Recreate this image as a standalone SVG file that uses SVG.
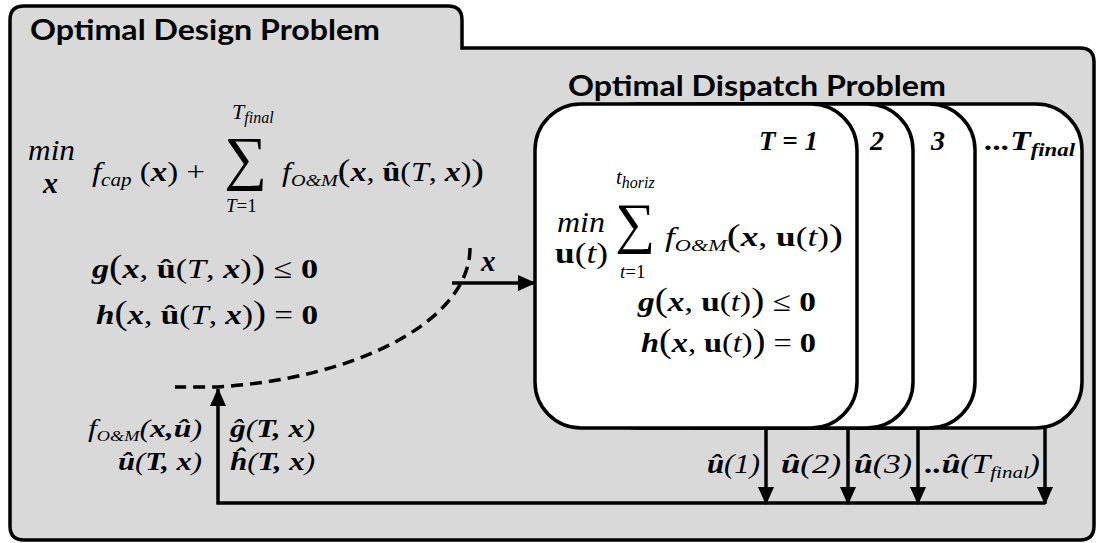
<svg xmlns="http://www.w3.org/2000/svg" width="1097" height="543" viewBox="0 0 1097 543">
<style>
.title{font-family:Lato,"Open Sans",sans-serif;font-weight:bold;font-size:28px;fill:#000}
.m{font-family:"Liberation Serif","DejaVu Serif",serif;fill:#000}
.i{font-style:italic}
.b{font-weight:bold}
.bi{font-style:italic;font-weight:bold}
.card{fill:#fff;stroke:#000;stroke-width:3.5}
.ln{stroke:#000;stroke-width:3.5;fill:none}
.dash{stroke:#000;stroke-width:3.5;fill:none;stroke-dasharray:12 7}
</style>
<defs>
<marker id="ah" markerUnits="userSpaceOnUse" markerWidth="18" markerHeight="16" refX="17" refY="8" orient="auto">
<path d="M0,0 L18,8 L0,16 Z" fill="#000"/>
</marker>
</defs>
<g id="design">
<path d="M 10 20 Q 10 6 24 6 L 448 6 Q 462 6 462 20 L 462 48 L 1080 48 Q 1094 48 1094 62 L 1094 526 Q 1094 540 1080 540 L 24 540 Q 10 540 10 526 Z" fill="#d9d9d9" stroke="#000" stroke-width="3.5"/>
<text class="title" x="30" y="40" textLength="350" lengthAdjust="spacingAndGlyphs">Optimal Design Problem</text>
<text class="m i" x="28" y="160" font-size="29" textLength="47" lengthAdjust="spacingAndGlyphs">min</text>
<text class="m bi" x="43" y="193" font-size="30">x</text>
<text class="m" x="92" y="181" font-size="28" textLength="113" lengthAdjust="spacingAndGlyphs"><tspan class="i">f</tspan><tspan class="i" font-size="18" dy="5">cap</tspan><tspan dy="-5"> (</tspan><tspan class="bi">x</tspan><tspan>) +</tspan></text>
<text class="m i" x="232" y="119" font-size="22">T<tspan font-size="16" dy="4">final</tspan></text>
<text class="m" x="224" y="178" font-size="60">∑</text>
<text class="m" x="226" y="212" font-size="19"><tspan class="i">T</tspan>=1</text>
<text class="m" x="282" y="181" font-size="27" textLength="202" lengthAdjust="spacingAndGlyphs"><tspan class="i">f</tspan><tspan class="i" font-size="17" dy="5">O&amp;M</tspan><tspan dy="-5" font-size="32">(</tspan><tspan class="bi">x</tspan>, <tspan class="b">û</tspan>(<tspan class="i">T</tspan>, <tspan class="bi">x</tspan>)<tspan font-size="32">)</tspan></text>
<text class="m" x="92" y="278" font-size="28" textLength="226" lengthAdjust="spacingAndGlyphs"><tspan class="bi">g</tspan><tspan font-size="33">(</tspan><tspan class="bi">x</tspan>, <tspan class="b">û</tspan>(<tspan class="i">T</tspan>, <tspan class="bi">x</tspan>)<tspan font-size="33">)</tspan> ≤ <tspan class="b">0</tspan></text>
<text class="m" x="96" y="324" font-size="28" textLength="222" lengthAdjust="spacingAndGlyphs"><tspan class="bi">h</tspan><tspan font-size="33">(</tspan><tspan class="bi">x</tspan>, <tspan class="b">û</tspan>(<tspan class="i">T</tspan>, <tspan class="bi">x</tspan>)<tspan font-size="33">)</tspan> = <tspan class="b">0</tspan></text>
<text class="m" x="88" y="437" font-size="26" textLength="114" lengthAdjust="spacingAndGlyphs"><tspan class="i">f</tspan><tspan class="i" font-size="15" dy="4">O&amp;M</tspan><tspan dy="-4" class="i">(</tspan><tspan class="bi">x,û</tspan><tspan class="i">)</tspan></text>
<text class="m" x="118" y="470" font-size="26" textLength="84" lengthAdjust="spacingAndGlyphs"><tspan class="bi">û</tspan><tspan class="i">(</tspan><tspan class="bi">T, x</tspan><tspan class="i">)</tspan></text>
<text class="m" x="230" y="437" font-size="26" textLength="85" lengthAdjust="spacingAndGlyphs"><tspan class="bi">ĝ</tspan><tspan class="i">(</tspan><tspan class="bi">T, x</tspan><tspan class="i">)</tspan></text>
<text class="m" x="230" y="470" font-size="26" textLength="85" lengthAdjust="spacingAndGlyphs"><tspan class="bi">ĥ</tspan><tspan class="i">(</tspan><tspan class="bi">T, x</tspan><tspan class="i">)</tspan></text>
</g>
<g id="dispatch">
<text class="title" x="568" y="96" textLength="378" lengthAdjust="spacingAndGlyphs">Optimal Dispatch Problem</text>
</g>
<g id="card4">
<rect class="card" x="760" y="104" width="322" height="324" rx="46" ry="46"/>
<text class="m bi" x="985" y="150" font-size="28" textLength="90" lengthAdjust="spacingAndGlyphs">...T<tspan font-size="19" dy="6">final</tspan></text>
</g>
<g id="card3">
<rect class="card" x="653" y="104" width="322" height="324" rx="46" ry="46"/>
<text class="m bi" x="931" y="150" font-size="28">3</text>
</g>
<g id="card2">
<rect class="card" x="591" y="104" width="322" height="324" rx="46" ry="46"/>
<text class="m bi" x="870" y="150" font-size="28">2</text>
</g>
<g id="card1">
<rect class="card" x="535" y="104" width="322" height="324" rx="46" ry="46"/>
<text class="m bi" x="759" y="150" font-size="28" textLength="59" lengthAdjust="spacingAndGlyphs">T = 1</text>
<text class="m i" x="557" y="232" font-size="29" textLength="48" lengthAdjust="spacingAndGlyphs">min</text>
<text class="m" x="555" y="263" font-size="29" textLength="53" lengthAdjust="spacingAndGlyphs"><tspan class="b">u</tspan>(<tspan class="i">t</tspan>)</text>
<text class="m" x="615" y="242" font-size="56">∑</text>
<text class="m i" x="616" y="184" font-size="21">t<tspan font-size="16" dy="4">horiz</tspan></text>
<text class="m" x="620" y="278" font-size="19"><tspan class="i">t</tspan>=1</text>
<text class="m" x="665" y="246" font-size="27" textLength="178" lengthAdjust="spacingAndGlyphs"><tspan class="i">f</tspan><tspan class="i" font-size="17" dy="5">O&amp;M</tspan><tspan dy="-5" font-size="32">(</tspan><tspan class="bi">x</tspan>, <tspan class="b">u</tspan>(<tspan class="i">t</tspan>)<tspan font-size="32">)</tspan></text>
<text class="m" x="638" y="311" font-size="28" textLength="178" lengthAdjust="spacingAndGlyphs"><tspan class="bi">g</tspan><tspan font-size="33">(</tspan><tspan class="bi">x</tspan>, <tspan class="b">u</tspan>(<tspan class="i">t</tspan>)<tspan font-size="33">)</tspan> ≤ <tspan class="b">0</tspan></text>
<text class="m" x="641" y="352" font-size="28" textLength="175" lengthAdjust="spacingAndGlyphs"><tspan class="bi">h</tspan><tspan font-size="33">(</tspan><tspan class="bi">x</tspan>, <tspan class="b">u</tspan>(<tspan class="i">t</tspan>)<tspan font-size="33">)</tspan> = <tspan class="b">0</tspan></text>
</g>
<g id="connectors">
<path class="dash" d="M 470 248 A 290 140 0 0 1 218 387 L 175 387"/>
<line class="ln" x1="452" y1="283" x2="535" y2="283" marker-end="url(#ah)"/>
<text class="m bi" x="481" y="271" font-size="29">x</text>
<polyline class="ln" points="1045,503 218,503 218,389" marker-end="url(#ah)"/>
<line class="ln" x1="766" y1="428" x2="766" y2="504" marker-end="url(#ah)"/>
<line class="ln" x1="848" y1="428" x2="848" y2="504" marker-end="url(#ah)"/>
<line class="ln" x1="918" y1="428" x2="918" y2="504" marker-end="url(#ah)"/>
<line class="ln" x1="1045" y1="428" x2="1045" y2="504" marker-end="url(#ah)"/>
<text class="m" x="707" y="473" font-size="27" textLength="53" lengthAdjust="spacingAndGlyphs"><tspan class="bi">û</tspan><tspan class="i">(1)</tspan></text>
<text class="m" x="781" y="473" font-size="27" textLength="60" lengthAdjust="spacingAndGlyphs"><tspan class="bi">û</tspan><tspan class="i">(2)</tspan></text>
<text class="m" x="854" y="473" font-size="27" textLength="58" lengthAdjust="spacingAndGlyphs"><tspan class="bi">û</tspan><tspan class="i">(3)</tspan></text>
<text class="m" x="925" y="473" font-size="27" textLength="115" lengthAdjust="spacingAndGlyphs"><tspan class="bi">..û</tspan><tspan class="i">(T</tspan><tspan class="i" font-size="17" dy="5">final</tspan><tspan class="i" dy="-5">)</tspan></text>
</g>
</svg>
